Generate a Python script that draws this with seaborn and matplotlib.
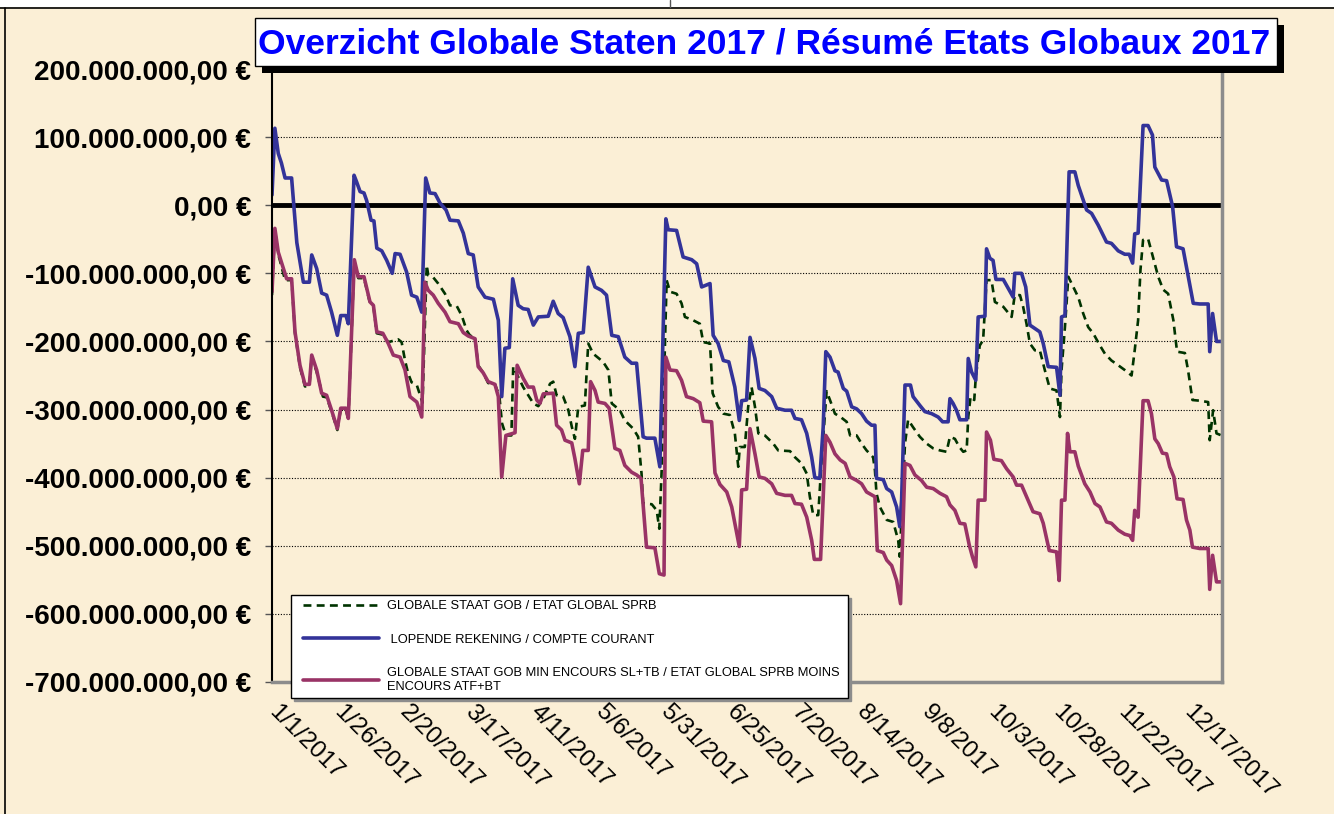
import pandas as pd
import seaborn as sns
import matplotlib.pyplot as plt
from matplotlib.patches import Rectangle
from matplotlib.lines import Line2D
from matplotlib.ticker import FuncFormatter
from matplotlib.transforms import ScaledTranslation
from matplotlib.legend_handler import HandlerLine2D

# ---- data (day of year 2017, values in millions of euro) ----
tick_days = [0, 25, 50, 75, 100, 125, 150, 175, 200, 225, 250, 275, 300, 325, 350]
tick_labels = ["1/1/2017", "1/26/2017", "2/20/2017", "3/17/2017", "4/11/2017",
               "5/6/2017", "5/31/2017", "6/25/2017", "7/20/2017", "8/14/2017",
               "9/8/2017", "10/3/2017", "10/28/2017", "11/22/2017", "12/17/2017"]
ytick_vals = [-700, -600, -500, -400, -300, -200, -100, 0, 100, 200]

series_names = ["GLOBALE STAAT GOB / ETAT GLOBAL SPRB",
                " LOPENDE REKENING / COMPTE COURANT",
                "GLOBALE STAAT GOB MIN ENCOURS SL+TB / ETAT GLOBAL SPRB MOINS\nENCOURS ATF+BT"]

# globale staat (green dashed)
green_days = [0, 1.1, 2.4, 5.0, 7.5, 8.8, 10.7, 12.6, 14.3, 15.2,
              17.1, 19.5, 20.9, 22.8, 25.0, 26.3, 28.3, 29.2, 31.5, 33.0,
              35.2, 37.5, 38.8, 40.1, 42.4, 44.5, 46.4, 48.3, 49.6, 50.9,
              52.1, 53.4, 55.4, 56.6, 57.6, 59.2, 59.8, 61.7, 63.6, 66.2,
              68.1, 70.7, 72.6, 74.5, 75.7, 77.7, 78.9, 80.8, 82.7, 85.3,
              87.0, 88.0, 89.5, 91.6, 92.3, 96.1, 100.0, 101.9, 103.8, 106.4,
              107.6, 108.9, 111.4, 113.4, 114.7, 115.9, 117.2, 119.7, 121.0, 122.9,
              126.7, 128.7, 130.0, 133.1, 135.0, 138.2, 140.1, 141.4, 142.0, 145.3,
              147.2, 148.2, 149.1, 151.0, 152.3, 154.8, 156.7, 158.0, 161.2, 163.7,
              165.0, 167.6, 168.6, 170.7, 172.7, 175.2, 177.1, 178.4, 179.0, 180.9,
              182.2, 183.5, 184.8, 186.1, 188.6, 191.8, 193.7, 198.2, 200.1, 202.6,
              204.6, 205.8, 207.1, 209.0, 210.3, 212.2, 213.5, 215.4, 217.9, 219.9,
              221.2, 223.7, 225.6, 227.5, 230.0, 230.7, 231.3, 232.6, 235.2, 237.7,
              239.6, 240.2, 241.3, 242.2, 243.4, 245.3, 247.9, 250.5, 253.0, 255.6,
              258.1, 259.4, 261.3, 263.0, 264.5, 265.8, 266.4, 267.3, 268.7, 269.3,
              270.8, 272.1, 273.4, 275.3, 276.6, 279.8, 283.0, 284.2, 286.2, 287.4,
              288.7, 290.0, 291.9, 293.8, 295.7, 297.6, 300.2, 301.5, 302.1, 303.4,
              304.7, 306.6, 308.5, 310.4, 312.3, 314.2, 316.8, 318.7, 321.2, 323.8,
              326.3, 328.9, 330.1, 331.4, 332.3, 333.3, 335.2, 337.1, 339.1, 341.0,
              342.9, 344.9, 346.3, 349.3, 350.5, 352.2, 355.0, 358.2, 358.8, 360.1,
              361.4, 363.3]
green_vals = [-132, -36, -72, -110, -110, -188, -238, -266, -266, -222,
              -245, -281, -282, -303, -330, -300, -300, -315, -82, -107,
              -107, -144, -149, -188, -190, -201, -199, -197, -201, -228,
              -247, -260, -264, -278, -290, -88, -103, -106, -115, -130,
              -147, -148, -162, -184, -191, -195, -235, -246, -261, -263,
              -280, -320, -338, -338, -237, -267, -291, -295, -284, -262,
              -259, -279, -281, -301, -325, -343, -296, -294, -203, -218,
              -230, -242, -291, -301, -316, -328, -340, -394, -438, -439,
              -448, -475, -389, -110, -127, -130, -144, -164, -169, -174,
              -201, -203, -276, -296, -306, -308, -335, -384, -355, -355,
              -296, -267, -296, -335, -338, -350, -360, -361, -370, -379,
              -394, -428, -455, -455, -374, -273, -286, -306, -312, -318,
              -338, -338, -350, -360, -370, -389, -423, -443, -462, -465,
              -492, -516, -423, -350, -315, -326, -340, -350, -357, -360,
              -362, -340, -343, -355, -362, -360, -311, -281, -286, -252,
              -206, -198, -110, -110, -142, -149, -164, -132, -132, -149,
              -174, -203, -213, -213, -242, -269, -272, -311, -242, -179,
              -105, -120, -135, -159, -179, -188, -206, -218, -228, -235,
              -242, -250, -213, -169, -95, -51, -49, -76, -105, -124,
              -130, -169, -215, -217, -242, -286, -287, -289, -345, -301,
              -335, -338]

# lopende rekening (blue)
blue_days = [0, 1.1, 2.4, 3.6, 5.0, 7.5, 9.5, 12.0, 14.3, 15.2,
             17.1, 19.0, 20.9, 22.8, 25.0, 26.3, 28.3, 29.2, 31.4, 32.4,
             33.7, 35.2, 36.2, 37.9, 39.0, 40.1, 42.0, 43.9, 46.0, 47.1,
             49.0, 51.5, 53.4, 55.4, 57.3, 58.8, 60.4, 62.4, 64.3, 66.6,
             68.1, 71.3, 73.2, 75.1, 77.0, 78.9, 81.5, 84.7, 86.6, 87.9,
             89.1, 90.8, 92.1, 94.2, 96.1, 98.0, 100.0, 101.9, 105.7, 107.6,
             109.5, 111.4, 114.0, 115.9, 117.2, 119.1, 121.0, 123.6, 126.1, 128.0,
             130.0, 132.5, 135.0, 137.6, 139.5, 142.0, 143.3, 146.5, 148.4, 150.7,
             151.6, 154.8, 157.3, 160.6, 162.5, 164.4, 167.6, 168.8, 170.7, 172.7,
             174.8, 177.1, 178.8, 179.7, 181.6, 182.9, 184.8, 186.4, 188.6, 191.2,
             193.1, 196.3, 198.8, 200.1, 202.6, 204.6, 206.5, 207.7, 209.6, 210.9,
             211.9, 213.5, 215.4, 216.6, 218.6, 219.9, 221.8, 223.7, 225.6, 227.5,
             229.4, 230.7, 231.3, 233.9, 235.2, 237.1, 239.0, 240.2, 240.9, 242.2,
             244.3, 245.3, 247.9, 249.8, 252.4, 254.9, 256.6, 258.7, 259.4, 260.6,
             261.9, 263.2, 265.8, 266.4, 267.7, 269.3, 270.2, 272.8, 273.4, 274.7,
             275.9, 277.0, 279.8, 281.7, 283.6, 284.2, 286.8, 288.4, 290.0, 291.9,
             293.8, 295.1, 297.0, 300.2, 301.5, 302.1, 303.4, 305.0, 307.2, 308.5,
             311.7, 313.6, 316.1, 319.3, 321.2, 323.8, 326.3, 328.0, 329.3, 330.1,
             331.4, 333.3, 335.2, 336.9, 337.8, 340.4, 342.3, 344.6, 346.1, 348.6,
             350.5, 352.5, 355.0, 358.2, 358.8, 359.9, 361.4, 363.3]
blue_vals = [15, 113, 76, 62, 40, 40, -55, -113, -113, -73,
             -93, -129, -132, -157, -191, -162, -162, -174, 44, 34,
             20, 18, 7, -22, -23, -63, -67, -81, -100, -71,
             -72, -98, -132, -135, -157, 40, 18, 17, 3, -7,
             -22, -23, -41, -71, -73, -120, -135, -138, -169, -281,
             -210, -209, -108, -147, -152, -153, -176, -164, -163, -141,
             -159, -165, -193, -237, -188, -187, -91, -120, -125, -132,
             -191, -193, -223, -232, -232, -340, -342, -342, -384, -20,
             -36, -37, -76, -80, -86, -120, -115, -191, -203, -228,
             -230, -267, -316, -287, -286, -194, -225, -269, -272, -281,
             -298, -301, -301, -313, -315, -335, -370, -400, -401, -326,
             -215, -223, -243, -245, -269, -273, -296, -299, -306, -317,
             -323, -323, -401, -403, -416, -421, -443, -472, -433, -264,
             -264, -281, -294, -303, -306, -311, -318, -318, -284, -291,
             -301, -315, -315, -225, -245, -257, -164, -163, -64, -78,
             -81, -109, -109, -122, -135, -100, -100, -120, -176, -181,
             -186, -203, -237, -238, -279, -164, -162, 49, 49, 29,
             -7, -12, -29, -54, -56, -67, -72, -72, -85, -42,
             -41, 117, 117, 103, 56, 37, 36, -2, -61, -64,
             -103, -144, -145, -145, -215, -159, -200, -200]

# globale staat min encours (crimson)
red_days = [0, 1.1, 2.4, 5.6, 7.5, 8.8, 10.7, 12.6, 14.3, 15.2,
            17.1, 19.0, 20.9, 22.8, 25.0, 26.3, 28.3, 29.2, 31.5, 33.0,
            35.2, 37.5, 38.8, 40.1, 42.4, 44.5, 46.4, 49.0, 50.9, 52.8,
            55.4, 57.3, 58.5, 59.8, 61.7, 63.6, 66.2, 68.1, 71.3, 73.2,
            75.1, 77.7, 78.9, 80.8, 82.7, 85.3, 86.6, 87.9, 89.5, 93.0,
            93.8, 96.1, 98.0, 100.0, 101.3, 102.5, 103.8, 107.6, 108.9, 110.8,
            112.1, 114.7, 115.9, 117.6, 118.9, 121.0, 121.9, 123.6, 124.8, 127.4,
            129.0, 131.2, 133.1, 135.0, 137.6, 139.5, 141.2, 143.3, 146.5, 148.2,
            150.0, 150.7, 152.3, 154.8, 156.7, 158.6, 161.2, 163.7, 165.0, 168.2,
            169.5, 171.4, 174.0, 175.9, 178.8, 179.7, 181.6, 182.9, 184.8, 186.4,
            188.6, 191.2, 193.1, 196.3, 198.8, 200.1, 202.6, 204.6, 206.5, 207.5,
            209.9, 211.9, 213.5, 215.4, 217.4, 219.3, 221.2, 223.7, 225.6, 227.5,
            230.7, 231.6, 233.9, 235.2, 237.1, 239.0, 240.5, 242.2, 244.1, 246.0,
            248.5, 250.5, 253.0, 255.6, 258.1, 259.4, 261.3, 263.2, 265.1, 266.8,
            268.0, 269.3, 270.2, 272.8, 273.4, 274.9, 276.2, 279.1, 281.1, 283.6,
            284.9, 286.8, 288.7, 291.2, 293.8, 295.1, 297.4, 300.2, 301.2, 302.1,
            303.4, 304.4, 305.3, 307.2, 308.5, 311.0, 313.0, 314.9, 316.8, 319.3,
            321.2, 323.8, 326.3, 328.2, 329.3, 330.1, 331.4, 333.3, 335.2, 336.5,
            337.8, 339.1, 340.7, 342.3, 343.5, 345.1, 346.3, 348.6, 349.9, 351.2,
            352.2, 355.0, 358.2, 358.8, 359.9, 361.4, 363.3]
red_vals = [-127, -34, -69, -108, -108, -186, -235, -263, -263, -220,
            -242, -276, -279, -301, -328, -298, -298, -313, -80, -105,
            -105, -142, -147, -186, -188, -203, -220, -223, -242, -281,
            -289, -311, -113, -125, -132, -144, -157, -171, -174, -187,
            -192, -196, -237, -246, -259, -263, -281, -399, -338, -334,
            -235, -254, -267, -267, -286, -291, -277, -276, -323, -330,
            -345, -349, -372, -409, -360, -360, -259, -272, -289, -291,
            -298, -357, -360, -382, -392, -396, -401, -502, -503, -541,
            -543, -223, -242, -243, -257, -281, -284, -290, -317, -318,
            -393, -410, -421, -443, -501, -418, -417, -328, -365, -399,
            -401, -409, -423, -426, -426, -438, -439, -458, -492, -520,
            -520, -338, -348, -365, -374, -379, -399, -404, -409, -421,
            -428, -507, -510, -521, -529, -551, -585, -379, -382, -396,
            -404, -414, -416, -423, -428, -440, -448, -467, -468, -499,
            -516, -531, -433, -433, -333, -345, -373, -375, -387, -399,
            -411, -411, -428, -450, -453, -467, -507, -509, -551, -433,
            -433, -335, -362, -362, -383, -409, -421, -438, -443, -465,
            -467, -477, -483, -485, -492, -448, -458, -287, -287, -306,
            -343, -350, -364, -365, -384, -399, -431, -432, -462, -477,
            -502, -504, -504, -564, -514, -553, -553]

# ---- figure ----
W, H = 1334, 814
sns.set_theme(style="white")
plt.rcParams['font.family'] = ['Liberation Sans', 'DejaVu Sans']

fig = plt.figure(figsize=(W / 100, H / 100), dpi=100)
fig.patch.set_facecolor('#fbefd6')

ax = fig.add_axes([272 / W, 1 - 682 / H, 950 / W, 613 / H])
ax.set_facecolor('none')

df_green = pd.DataFrame({"day": green_days, "value": green_vals})
df_blue = pd.DataFrame({"day": blue_days, "value": blue_vals})
df_red = pd.DataFrame({"day": red_days, "value": red_vals})

sns.lineplot(data=df_green, x="day", y="value", ax=ax, color='#003300', lw=1.9,
             linestyle=(0, (3, 2)), estimator=None, sort=False, label=series_names[0])
sns.lineplot(data=df_blue, x="day", y="value", ax=ax, color='#333399', lw=2.6,
             estimator=None, sort=False, label=series_names[1])
sns.lineplot(data=df_red, x="day", y="value", ax=ax, color='#993366', lw=2.6,
             estimator=None, sort=False, label=series_names[2])

ax.axhline(0, color='black', lw=3.5, zorder=1.8)

ax.set_xlim(0, 363.5)
ax.set_ylim(-700, 200)
ax.set_xlabel("")
ax.set_ylabel("")


def euro(v, pos):
    s = f"{abs(v) * 1e6:,.2f}".replace(",", "X").replace(".", ",").replace("X", ".")
    return ("-" if v < 0 else "") + s + " €"


ax.set_yticks(ytick_vals)
ax.yaxis.set_major_formatter(FuncFormatter(euro))
ax.set_xticks(tick_days)
ax.set_xticklabels(tick_labels)

ax.yaxis.grid(True, linestyle=(0, (1, 1.5)), color='black', lw=0.8)
ax.xaxis.grid(False)

ax.tick_params(axis='y', left=True, length=5, width=1, color='#555555', pad=10,
               labelsize=20, labelcolor='black')
for t in ax.get_yticklabels():
    t.set_fontweight('bold')
ax.tick_params(axis='x', bottom=False, length=0, pad=14, labelsize=17.5,
               labelcolor='black')
shift = ScaledTranslation(8 / 100, 0, fig.dpi_scale_trans)
for t in ax.get_xticklabels():
    t.set_rotation(-45)
    t.set_rotation_mode('anchor')
    t.set_ha('left')
    t.set_va('top')
    t.set_transform(t.get_transform() + shift)

ax.spines['top'].set_visible(False)
ax.spines['left'].set_color('black')
ax.spines['left'].set_linewidth(1.5)
for s in ['right', 'bottom']:
    ax.spines[s].set_color('#8c8c8c')
    ax.spines[s].set_linewidth(2.5)

handles, labels = ax.get_legend_handles_labels()
ax.legend(handles, labels, loc='upper left',
          bbox_to_anchor=(291 / W, 1 - 695 / H, 557 / W, 100 / H),
          bbox_transform=fig.transFigure, mode='expand', borderaxespad=0,
          fontsize=9.3, handlelength=6.4, handletextpad=0.62, labelspacing=1.65,
          borderpad=0.4, frameon=True, fancybox=False, edgecolor='black',
          facecolor='white', framealpha=1, labelcolor='black',
          handler_map={Line2D: HandlerLine2D(xpad=0.54)},
          shadow={'color': '#8c8c8c', 'alpha': 1})

# frame decorations
fig.add_artist(Rectangle((0, 1 - 7 / H), 1, 7 / H, transform=fig.transFigure,
                         fc='white', ec='none', zorder=5))
fig.add_artist(Line2D([0, 1], [1 - 7.5 / H] * 2, transform=fig.transFigure,
                      color='black', lw=1.2, zorder=6))
fig.add_artist(Line2D([5 / W] * 2, [0, 1 - 7.5 / H], transform=fig.transFigure,
                      color='black', lw=1.2, zorder=6))
fig.add_artist(Line2D([670 / W] * 2, [1, 1 - 7 / H], transform=fig.transFigure,
                      color='#555555', lw=1, zorder=6))

# title box with shadow
fig.add_artist(Rectangle((262 / W, 1 - 73 / H), (1284 - 262) / W, (73 - 25) / H,
                         transform=fig.transFigure, fc='black', ec='none', zorder=5))
fig.add_artist(Rectangle((255 / W, 1 - 66 / H), (1277 - 255) / W, (66 - 18) / H,
                         transform=fig.transFigure, fc='white', ec='black', lw=1, zorder=6))
fig.text(764 / W, 1 - 44 / H, "Overzicht Globale Staten 2017 / Résumé Etats Globaux 2017",
         ha='center', va='center', fontsize=25.5, fontweight='bold', color='#0000ff', zorder=7)

fig.savefig("out.png", dpi=100, facecolor=fig.get_facecolor())
